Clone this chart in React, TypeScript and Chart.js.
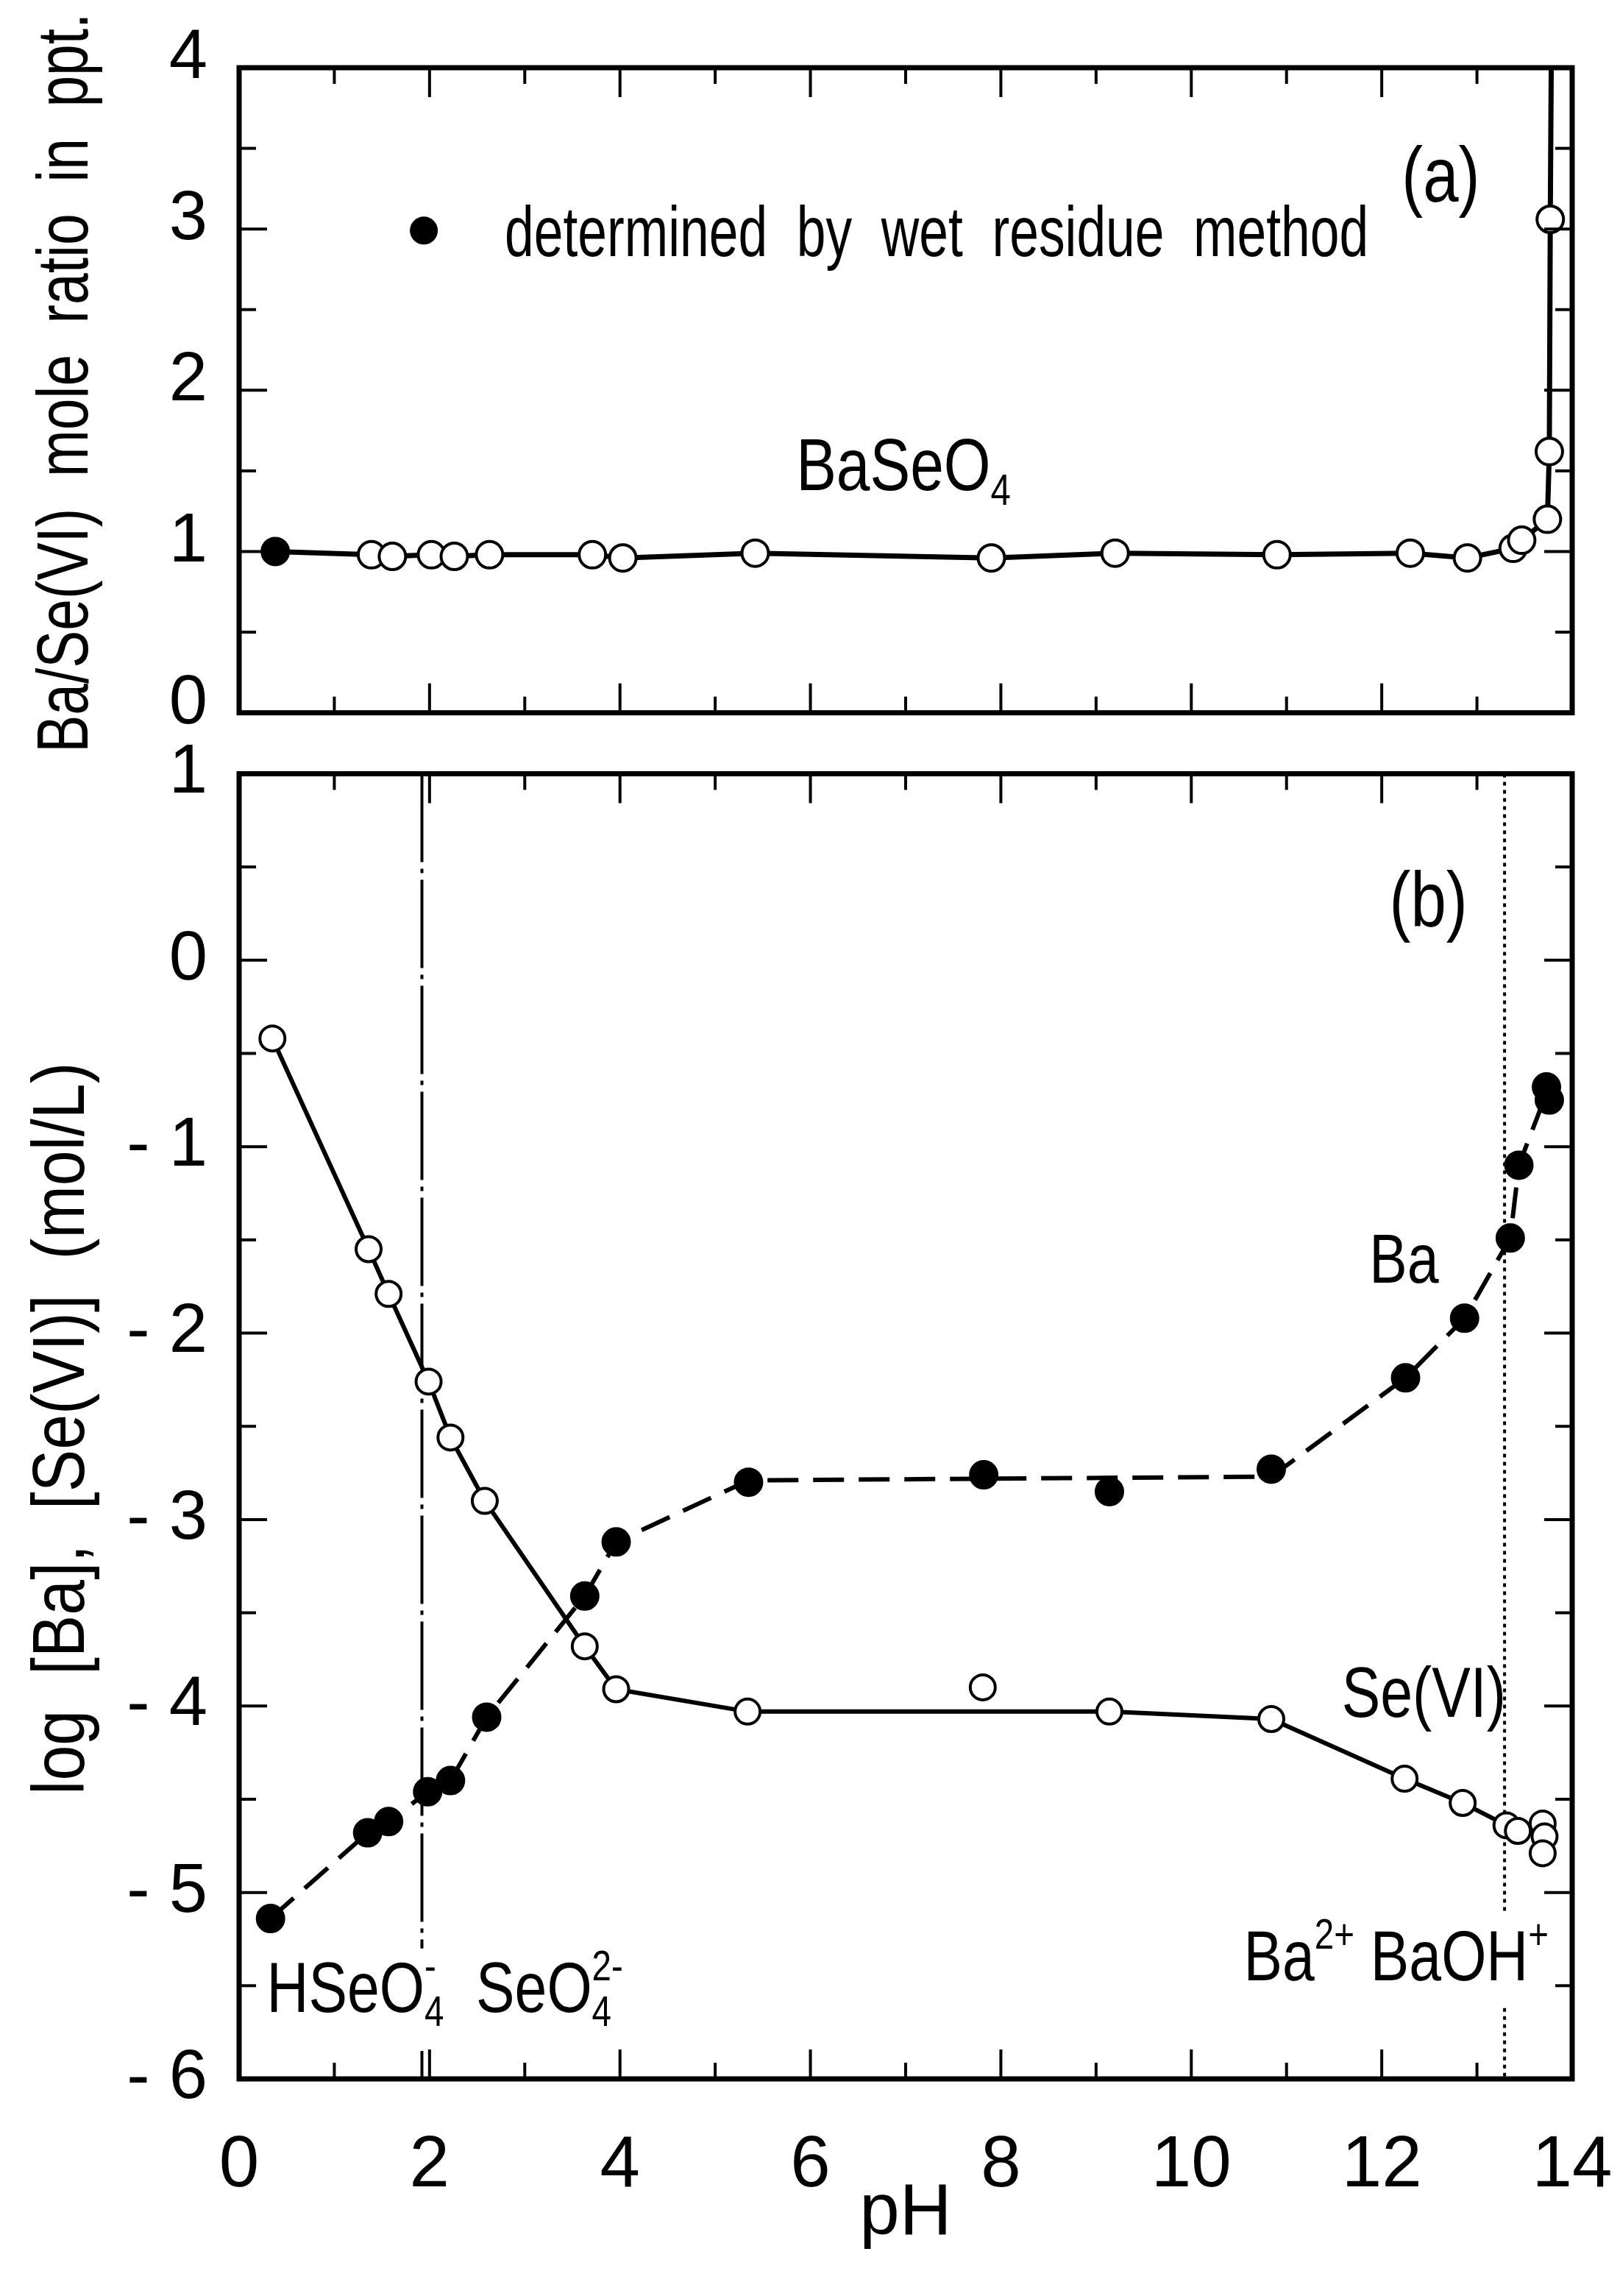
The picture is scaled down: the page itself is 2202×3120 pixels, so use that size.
import React, { useEffect, useRef } from 'react';
import { Chart, registerables } from 'chart.js';

Chart.register(...registerables);

const FONT = "'Liberation Sans', Arial, sans-serif";
// the figure's lettering is a narrow grotesque; text drawn by hand is squeezed to match
const SQUEEZE = 0.82;

// (a) Ba/Se(VI) mole ratio in the precipitate
const ratioWetPH = [0.38];
const ratioWetValue = [1.0];
const ratioPH = [1.39, 1.61, 2.02, 2.26, 2.63, 3.71, 4.03, 5.42, 7.9, 9.2, 10.9, 12.3, 12.9, 13.38, 13.47, 13.74, 13.76, 13.77];
const ratioValue = [0.98, 0.97, 0.98, 0.97, 0.98, 0.98, 0.96, 0.99, 0.96, 0.99, 0.98, 0.99, 0.96, 1.02, 1.07, 1.2, 1.62, 3.06];
// the drawn curve runs on up to the top of the frame
const ratioLineEnd = { x: 13.78, y: 4.0 };
const ratioTicks = [0, 1, 2, 3, 4];

// (b) log [Ba], log [Se(VI)] in solution
const baPH = [0.33, 1.35, 1.57, 1.98, 2.22, 2.6, 3.63, 3.96, 5.35, 7.82, 9.14, 10.84, 12.25, 12.87, 13.35, 13.44, 13.73, 13.76];
const baLog = [-5.14, -4.68, -4.62, -4.46, -4.4, -4.06, -3.41, -3.12, -2.8, -2.76, -2.85, -2.73, -2.24, -1.92, -1.49, -1.1, -0.68, -0.75];
const baCurvePH = [0.33, 1.35, 1.57, 1.98, 2.22, 2.6, 3.63, 3.96, 5.35, 10.84, 12.25, 12.87, 13.35, 13.44, 13.74];
const baCurveLog = [-5.14, -4.68, -4.62, -4.46, -4.4, -4.06, -3.41, -3.12, -2.79, -2.77, -2.24, -1.92, -1.49, -1.1, -0.7];

const sePH = [0.35, 1.36, 1.57, 1.99, 2.22, 2.58, 3.63, 3.96, 5.34, 7.81, 9.14, 10.84, 12.24, 12.85, 13.31, 13.43, 13.69, 13.71, 13.69];
const seLog = [-0.42, -1.55, -1.79, -2.26, -2.56, -2.9, -3.68, -3.91, -4.03, -3.9, -4.03, -4.07, -4.39, -4.52, -4.64, -4.67, -4.63, -4.7, -4.79];
const seCurvePH = [0.35, 1.36, 1.57, 1.99, 2.22, 2.58, 3.63, 3.96, 5.34, 9.14, 10.84, 12.24, 12.85, 13.31, 13.43, 13.7];
const seCurveLog = [-0.42, -1.55, -1.79, -2.26, -2.56, -2.9, -3.68, -3.91, -4.03, -4.03, -4.07, -4.39, -4.52, -4.64, -4.67, -4.7];

// species boundaries: HSeO4-/SeO4 2- and Ba2+/BaOH+
const selenateBoundary = [{ x: 1.92, y: 1 }, { x: 1.92, y: -5.3 }, { x: 1.92, y: null }, { x: 1.92, y: -5.85 }, { x: 1.92, y: -6 }];
const bariumBoundary = [{ x: 13.29, y: 1 }, { x: 13.29, y: -5.12 }, { x: 13.29, y: null }, { x: 13.29, y: -5.62 }, { x: 13.29, y: -6 }];

const pHTicks = [0, 2, 4, 6, 8, 10, 12, 14];
const logTicks = [-6, -5, -4, -3, -2, -1, 0, 1];

type Part = { t: string } | { sub?: string; sup?: string };
type Note = { x: number; y: number; size: number; parts: Part[]; maxWidth?: number; dot?: boolean };

const notesA: Note[] = [
  { x: 1.94, y: 2.99, size: 0, parts: [], dot: true },
  { x: 2.79, y: 2.83, size: 96, parts: [{ t: 'determined  by  wet  residue  method' }], maxWidth: 1174 },
  { x: 12.21, y: 3.17, size: 106, parts: [{ t: '(a)' }] },
  { x: 5.85, y: 1.38, size: 100, parts: [{ t: 'BaSeO' }, { sub: '4' }] },
];

const notesB: Note[] = [
  { x: 12.08, y: 0.18, size: 106, parts: [{ t: '(b)' }] },
  { x: 11.87, y: -1.73, size: 94, parts: [{ t: 'Ba' }] },
  { x: 11.58, y: -4.06, size: 96, parts: [{ t: 'Se(VI)' }] },
  { x: 10.55, y: -5.47, size: 96, parts: [{ t: 'Ba' }, { sup: '2+' }, { t: ' BaOH' }, { sup: '+' }] },
  { x: 0.29, y: -5.64, size: 96, parts: [{ t: 'HSeO' }, { sub: '4', sup: '-' }, { t: '  SeO' }, { sub: '4', sup: '2-' }] },
];

const pts = (xs: number[], ys: number[]) => xs.map((x, i) => ({ x, y: ys[i] }));

// frame with inward ticks on all four sides
const frameTicks = {
  id: 'frameTicks',
  afterDatasetsDraw(chart: any) {
    const { ctx, chartArea, scales } = chart;
    const { left, right, top, bottom } = chartArea;
    const x = scales.x;
    const y = scales.y;
    const seg = (x1: number, y1: number, x2: number, y2: number) => {
      ctx.beginPath();
      ctx.moveTo(x1, y1);
      ctx.lineTo(x2, y2);
      ctx.stroke();
    };
    ctx.save();
    ctx.strokeStyle = '#000';
    ctx.lineWidth = 4;
    for (let v = x.min; v <= x.max + 1e-6; v += 1) {
      const px = x.getPixelForValue(v);
      const len = Math.round(v) % 2 === 0 ? 40 : 22;
      seg(px, bottom, px, bottom - len);
      seg(px, top, px, top + len);
    }
    for (let v = y.min; v <= y.max + 1e-6; v += 0.5) {
      const py = y.getPixelForValue(v);
      const len = Math.abs(v - Math.round(v)) < 1e-6 ? 38 : 23;
      seg(left, py, left + len, py);
      seg(right, py, right - len, py);
    }
    ctx.lineWidth = 7;
    ctx.strokeRect(left, top, right - left, bottom - top);
    ctx.restore();
  },
};

// rotated y-axis title, squeezed to the length it has in the figure
const sideTitle = {
  id: 'sideTitle',
  afterDraw(chart: any, _args: any, opts: any) {
    const { ctx, chartArea } = chart;
    ctx.save();
    ctx.translate(opts.x, (chartArea.top + chartArea.bottom) / 2 + (opts.dy || 0));
    ctx.rotate(-Math.PI / 2);
    ctx.font = `${opts.size}px ${FONT}`;
    ctx.fillStyle = '#000';
    ctx.textAlign = 'center';
    ctx.textBaseline = 'middle';
    ctx.fillText(opts.text, 0, 0, opts.length);
    ctx.restore();
  },
};

const notesPlugin = {
  id: 'notes',
  afterDraw(chart: any, _args: any, opts: any) {
    const { ctx, scales } = chart;
    const list: Note[] = opts.list || [];
    list.forEach((n) => {
      const ax = scales.x.getPixelForValue(n.x);
      const ay = scales.y.getPixelForValue(n.y);
      ctx.save();
      ctx.fillStyle = '#000';
      if (n.dot) {
        ctx.beginPath();
        ctx.arc(ax, ay, 19, 0, Math.PI * 2);
        ctx.fill();
        ctx.restore();
        return;
      }
      ctx.textBaseline = 'alphabetic';
      ctx.textAlign = 'left';
      ctx.translate(ax, ay);
      if (!n.maxWidth) ctx.scale(SQUEEZE, 1);
      let cx = 0;
      n.parts.forEach((p: any) => {
        if (p.t !== undefined) {
          ctx.font = `${n.size}px ${FONT}`;
          if (n.maxWidth) ctx.fillText(p.t, cx, 0, n.maxWidth);
          else ctx.fillText(p.t, cx, 0);
          cx += Math.min(ctx.measureText(p.t).width, n.maxWidth || Infinity);
        } else {
          ctx.font = `${Math.round(n.size * 0.6)}px ${FONT}`;
          let w = 0;
          if (p.sub) {
            ctx.fillText(p.sub, cx, n.size * 0.2);
            w = Math.max(w, ctx.measureText(p.sub).width);
          }
          if (p.sup) {
            ctx.fillText(p.sup, cx, -n.size * 0.45);
            w = Math.max(w, ctx.measureText(p.sup).width);
          }
          cx += w;
        }
      });
      ctx.restore();
    });
  },
};

const tickFont = { family: FONT, size: 94 };

const RatioPanel = () => {
  const ref = useRef<HTMLCanvasElement>(null);
  useEffect(() => {
    if (!ref.current) return;
    const chart = new Chart(ref.current, {
      type: 'scatter',
      data: {
        datasets: [
          {
            data: [...pts(ratioWetPH, ratioWetValue), ...pts(ratioPH, ratioValue), ratioLineEnd],
            showLine: true,
            borderColor: '#000',
            borderWidth: 7,
            pointRadius: 0,
            order: 3,
          },
          {
            data: pts(ratioPH, ratioValue),
            pointRadius: 18,
            pointBackgroundColor: '#fff',
            pointBorderColor: '#000',
            pointBorderWidth: 4,
            order: 2,
          },
          {
            data: pts(ratioWetPH, ratioWetValue),
            pointRadius: 19,
            pointBackgroundColor: '#000',
            pointBorderColor: '#000',
            pointBorderWidth: 2,
            order: 1,
          },
        ],
      },
      options: {
        animation: false,
        responsive: true,
        maintainAspectRatio: false,
        layout: { padding: { top: 92, right: 65, bottom: 75, left: 0 } },
        plugins: {
          legend: { display: false },
          tooltip: { enabled: false },
          notes: { list: notesA },
          sideTitle: { text: 'Ba/Se(VI)  mole  ratio  in  ppt.', x: 92, dy: -10, size: 98, length: 1005 },
        } as any,
        scales: {
          x: { type: 'linear', min: 0, max: 14, display: false },
          y: {
            type: 'linear',
            min: 0,
            max: 4,
            afterFit: (s: any) => { s.width = 325; },
            afterBuildTicks: (s: any) => { s.ticks = ratioTicks.map((value) => ({ value })); },
            grid: { display: false },
            border: { display: false },
            ticks: { color: '#000', font: tickFont, padding: 35, labelOffset: -12 },
          },
        },
      },
      plugins: [frameTicks, notesPlugin, sideTitle],
    });
    return () => chart.destroy();
  }, []);
  return <canvas ref={ref} />;
};

const SolubilityPanel = () => {
  const ref = useRef<HTMLCanvasElement>(null);
  useEffect(() => {
    if (!ref.current) return;
    const chart = new Chart(ref.current, {
      type: 'scatter',
      data: {
        datasets: [
          {
            data: pts(seCurvePH, seCurveLog),
            showLine: true,
            borderColor: '#000',
            borderWidth: 6,
            pointRadius: 0,
            order: 6,
          },
          {
            data: pts(baCurvePH, baCurveLog),
            showLine: true,
            borderColor: '#000',
            borderWidth: 6,
            borderDash: [42, 20],
            pointRadius: 0,
            order: 5,
          },
          {
            data: selenateBoundary,
            showLine: true,
            spanGaps: false,
            borderColor: '#000',
            borderWidth: 4,
            borderDash: [120, 9, 6, 9],
            pointRadius: 0,
            order: 4,
          },
          {
            data: bariumBoundary,
            showLine: true,
            spanGaps: false,
            borderColor: '#000',
            borderWidth: 4,
            borderDash: [5, 6],
            pointRadius: 0,
            order: 3,
          },
          {
            data: pts(sePH, seLog),
            pointRadius: 17,
            pointBackgroundColor: '#fff',
            pointBorderColor: '#000',
            pointBorderWidth: 4,
            order: 2,
          },
          {
            data: pts(baPH, baLog),
            pointRadius: 19,
            pointBackgroundColor: '#000',
            pointBorderColor: '#000',
            pointBorderWidth: 2,
            order: 1,
          },
        ],
      },
      options: {
        animation: false,
        responsive: true,
        maintainAspectRatio: false,
        layout: { padding: { top: 90, right: 65, bottom: 0, left: 0 } },
        plugins: {
          legend: { display: false },
          tooltip: { enabled: false },
          notes: { list: notesB },
          sideTitle: { text: 'log  [Ba],  [Se(VI)]  (mol/L)', x: 86, dy: 3, size: 100, length: 995 },
        } as any,
        scales: {
          x: {
            type: 'linear',
            min: 0,
            max: 14,
            afterFit: (s: any) => { s.height = 295; },
            afterBuildTicks: (s: any) => { s.ticks = pHTicks.map((value) => ({ value })); },
            grid: { display: false },
            border: { display: false },
            // small padding keeps the "14" label from narrowing the plot; the tall line box sets it lower
            ticks: { color: '#000', font: { family: FONT, size: 98, lineHeight: 2.1 }, padding: 8, maxRotation: 0 },
            title: {
              display: true,
              text: 'pH',
              color: '#000',
              font: { family: FONT, size: 98 },
              padding: { top: 0, bottom: 52 },
            },
          },
          y: {
            type: 'linear',
            min: -6,
            max: 1,
            afterFit: (s: any) => { s.width = 325; },
            afterBuildTicks: (s: any) => { s.ticks = logTicks.map((value) => ({ value })); },
            grid: { display: false },
            border: { display: false },
            ticks: {
              color: '#000',
              font: tickFont,
              padding: 35,
              callback: (v: any) => (Number(v) < 0 ? `- ${-Number(v)}` : `${v}`),
            },
          },
        },
      },
      plugins: [frameTicks, notesPlugin, sideTitle],
    });
    return () => chart.destroy();
  }, []);
  return <canvas ref={ref} />;
};

export default function App() {
  return (
    <div style={{ position: 'absolute', left: 0, top: 0, width: 2202, height: 3120, background: '#fff' }}>
      <div style={{ position: 'absolute', left: 0, top: 0, width: 2202, height: 1060 }}>
        <RatioPanel />
      </div>
      <div style={{ position: 'absolute', left: 0, top: 960, width: 2202, height: 2160 }}>
        <SolubilityPanel />
      </div>
    </div>
  );
}
